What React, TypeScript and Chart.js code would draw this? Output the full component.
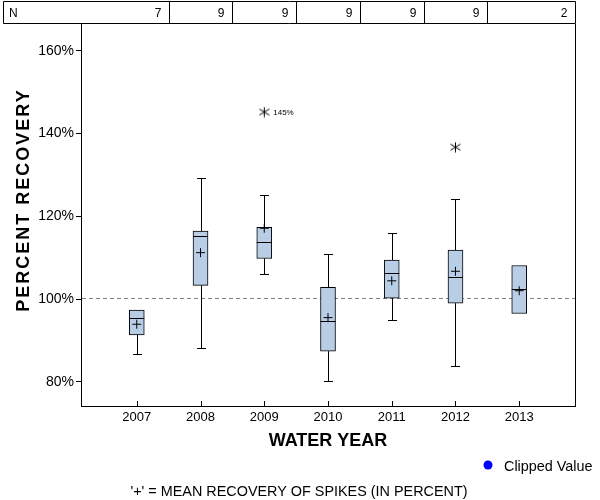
import React, { useEffect, useRef } from "react";
import { Chart, registerables } from "chart.js";

Chart.register(...registerables);

// ---- data ----
const YEARS = [2007, 2008, 2009, 2010, 2011, 2012, 2013];
const N_COUNTS = [7, 9, 9, 9, 9, 9, 2];
const WHISKER_LOW: (number | null)[] = [86.6, 88.1, 106.0, 80.3, 94.9, 83.7, null];
const Q1 = [91.3, 103.3, 109.8, 87.4, 100.2, 99.0, 96.5];
const MEDIAN = [95.4, 115.2, 113.8, 94.6, 106.2, 105.2, 102.4];
const Q3 = [97.3, 116.4, 117.3, 102.8, 109.4, 111.8, 108.1];
const WHISKER_HIGH: (number | null)[] = [null, 129.2, 125.1, 110.8, 115.9, 124.2, null];
const MEANS = [93.9, 111.2, 117.1, 95.5, 104.4, 106.7, 102.0];
const OUTLIER_YEARS = [2009, 2012];
const OUTLIER_VALUES = [145.2, 136.7];
const OUTLIER_LABELS = ["145%", ""];
const Y_TICKS = [80, 100, 120, 140, 160];
const REFERENCE_VALUE = 100;

const FONT = "'Liberation Sans', Arial, sans-serif";

function makeAsterisk(): HTMLCanvasElement {
  const c = document.createElement("canvas");
  c.width = 11;
  c.height = 11;
  const g = c.getContext("2d")!;
  g.strokeStyle = "#000";
  g.lineWidth = 1;
  g.beginPath();
  g.moveTo(5.5, 0.5);
  g.lineTo(5.5, 10.5);
  g.moveTo(0.5, 2.5);
  g.lineTo(10.5, 8.5);
  g.moveTo(0.5, 8.5);
  g.lineTo(10.5, 2.5);
  g.stroke();
  return c;
}

const boxPlugin = {
  id: "boxExtras",
  beforeDatasetsDraw(chart: any) {
    const { ctx, chartArea, scales } = chart;
    const x = scales.x;
    const y = scales.y;
    ctx.save();
    // dashed reference line
    ctx.strokeStyle = "#808080";
    ctx.lineWidth = 1;
    ctx.setLineDash([4, 3]);
    const yr = Math.round(y.getPixelForValue(REFERENCE_VALUE)) - 0.5;
    ctx.beginPath();
    ctx.moveTo(chartArea.left + 1, yr);
    ctx.lineTo(chartArea.right, yr);
    ctx.stroke();
    ctx.setLineDash([]);
    // whiskers
    ctx.strokeStyle = "#000";
    YEARS.forEach((year, i) => {
      const cx = Math.round(x.getPixelForValue(year)) + 0.5;
      const hi = WHISKER_HIGH[i];
      const lo = WHISKER_LOW[i];
      if (hi != null) {
        const py = Math.round(y.getPixelForValue(hi)) + 0.5;
        const qy = y.getPixelForValue(Q3[i]);
        ctx.beginPath();
        ctx.moveTo(cx, qy);
        ctx.lineTo(cx, py);
        ctx.moveTo(cx - 4.5, py);
        ctx.lineTo(cx + 4.5, py);
        ctx.stroke();
      }
      if (lo != null) {
        const py = Math.round(y.getPixelForValue(lo)) + 0.5;
        const qy = y.getPixelForValue(Q1[i]);
        ctx.beginPath();
        ctx.moveTo(cx, qy);
        ctx.lineTo(cx, py);
        ctx.moveTo(cx - 4.5, py);
        ctx.lineTo(cx + 4.5, py);
        ctx.stroke();
      }
    });
    ctx.restore();
  },
  afterDatasetsDraw(chart: any) {
    const { ctx, scales } = chart;
    const x = scales.x;
    const y = scales.y;
    ctx.save();
    ctx.strokeStyle = "#000";
    ctx.lineWidth = 1;
    YEARS.forEach((year, i) => {
      const cx = x.getPixelForValue(year);
      const my = Math.round(y.getPixelForValue(MEDIAN[i])) + 0.5;
      ctx.beginPath();
      ctx.moveTo(cx - 7.5, my);
      ctx.lineTo(cx + 7.5, my);
      ctx.stroke();
    });
    // outlier labels
    ctx.fillStyle = "#000";
    ctx.font = `8px ${FONT}`;
    ctx.textAlign = "left";
    ctx.textBaseline = "middle";
    OUTLIER_YEARS.forEach((year, i) => {
      if (!OUTLIER_LABELS[i]) return;
      ctx.fillText(
        OUTLIER_LABELS[i],
        x.getPixelForValue(year) + 9,
        y.getPixelForValue(OUTLIER_VALUES[i]) + 1
      );
    });
    ctx.restore();
  },
  afterDraw(chart: any) {
    const { ctx, chartArea, scales } = chart;
    const x = scales.x;
    ctx.save();
    ctx.strokeStyle = "#000";
    ctx.lineWidth = 1;
    // right border of the plot
    const rx = Math.round(chartArea.right) + 0.5;
    ctx.beginPath();
    ctx.moveTo(rx, chartArea.top);
    ctx.lineTo(rx, chartArea.bottom + 0.5);
    ctx.stroke();
    // inner x ticks
    const by = Math.round(chartArea.bottom);
    YEARS.forEach((year) => {
      const tx = Math.round(x.getPixelForValue(year)) + 0.5;
      ctx.beginPath();
      ctx.moveTo(tx, by);
      ctx.lineTo(tx, by - 5);
      ctx.stroke();
    });
    // N table
    const tTop = 1.5;
    const tBot = Math.round(chartArea.top) - 0.5;
    const tLeft = 3.5;
    ctx.beginPath();
    ctx.moveTo(tLeft, tTop);
    ctx.lineTo(rx, tTop);
    ctx.lineTo(rx, tBot);
    ctx.lineTo(tLeft, tBot);
    ctx.closePath();
    ctx.stroke();
    ctx.fillStyle = "#000";
    ctx.font = `12px ${FONT}`;
    ctx.textBaseline = "middle";
    ctx.textAlign = "left";
    const tMid = (tTop + tBot) / 2 + 1;
    ctx.fillText("N", 9, tMid);
    ctx.textAlign = "right";
    YEARS.forEach((year, i) => {
      const right = i < YEARS.length - 1 ? Math.round(x.getPixelForValue(year + 0.5)) + 0.5 : rx;
      if (i < YEARS.length - 1) {
        ctx.beginPath();
        ctx.moveTo(right, tTop);
        ctx.lineTo(right, tBot);
        ctx.stroke();
      }
      ctx.fillText(String(N_COUNTS[i]), right - 8, tMid);
    });
    // axis titles
    ctx.font = `bold 18px ${FONT}`;
    ctx.textAlign = "center";
    ctx.textBaseline = "middle";
    ctx.fillText("WATER YEAR", (chartArea.left + chartArea.right) / 2, 441);
    ctx.save();
    ctx.translate(24, 201);
    ctx.rotate(-Math.PI / 2);
    (ctx as any).letterSpacing = "2px";
    ctx.fillText("PERCENT RECOVERY", 1, 0);
    (ctx as any).letterSpacing = "0px";
    ctx.restore();
    // legend
    ctx.fillStyle = "#0000ff";
    ctx.beginPath();
    ctx.arc(488, 465, 4.5, 0, Math.PI * 2);
    ctx.fill();
    ctx.fillStyle = "#000";
    ctx.font = `14.4px ${FONT}`;
    ctx.textAlign = "left";
    ctx.fillText("Clipped Value", 504, 467);
    // footnote
    ctx.textAlign = "center";
    ctx.fillText("'+' = MEAN RECOVERY OF SPIKES (IN PERCENT)", 299, 492);
    ctx.restore();
  },
};

export default function App() {
  const ref = useRef<HTMLCanvasElement | null>(null);
  useEffect(() => {
    if (!ref.current) return;
    const star = makeAsterisk();
    const chart = new Chart(ref.current, {
      type: "bar",
      data: {
        datasets: [
          {
            type: "scatter",
            label: "Mean",
            data: YEARS.map((yr, i) => ({ x: yr, y: MEANS[i] })),
            pointStyle: "cross",
            pointRadius: 4.5,
            borderColor: "#000",
            borderWidth: 1,
            order: 1,
          } as any,
          {
            type: "scatter",
            label: "Outliers",
            data: OUTLIER_YEARS.map((yr, i) => ({ x: yr, y: OUTLIER_VALUES[i] })),
            pointStyle: star,
            pointRadius: 5,
            order: 0,
          } as any,
          {
            type: "bar",
            label: "IQR",
            data: YEARS.map((yr, i) => ({ x: yr, y: [Q1[i], Q3[i]] })),
            backgroundColor: "#b8cee6",
            borderColor: "#000",
            borderWidth: 1,
            borderSkipped: false,
            barThickness: 15,
            order: 2,
          } as any,
        ],
      },
      options: {
        responsive: false,
        animation: false,
        layout: { padding: { left: 0, top: 24, right: 25, bottom: 0 } },
        plugins: {
          legend: { display: false },
          tooltip: { enabled: false },
          title: { display: false },
        },
        scales: {
          x: {
            type: "linear",
            min: 2006.125,
            max: 2013.875,
            offset: false,
            afterBuildTicks: (s: any) => {
              s.ticks = YEARS.map((v) => ({ value: v }));
            },
            afterFit: (s: any) => {
              s.height = 94;
            },
            grid: { display: true, drawOnChartArea: false, drawTicks: false, offset: false },
            border: { display: true, color: "#000", width: 1 },
            ticks: {
              padding: 4,
              color: "#000",
              autoSkip: false,
              maxRotation: 0,
              font: { family: FONT, size: 13 },
              callback: (v: any) => String(v),
            },
          },
          y: {
            type: "linear",
            min: 74.14,
            max: 166.47,
            afterBuildTicks: (s: any) => {
              s.ticks = Y_TICKS.map((v) => ({ value: v }));
            },
            afterFit: (s: any) => {
              s.width = 81;
            },
            grid: { display: true, drawOnChartArea: false, tickLength: 5, color: "#000" },
            border: { display: true, color: "#000", width: 1 },
            ticks: {
              padding: 2,
              color: "#000",
              font: { family: FONT, size: 14 },
              callback: (v: any) => `${v}%`,
            },
          },
        },
      } as any,
      plugins: [boxPlugin],
    });
    return () => chart.destroy();
  }, []);
  return (
    <div style={{ position: "absolute", left: 0, top: 0, width: 600, height: 500, background: "#fff" }}>
      <canvas ref={ref} width={600} height={500} />
    </div>
  );
}
